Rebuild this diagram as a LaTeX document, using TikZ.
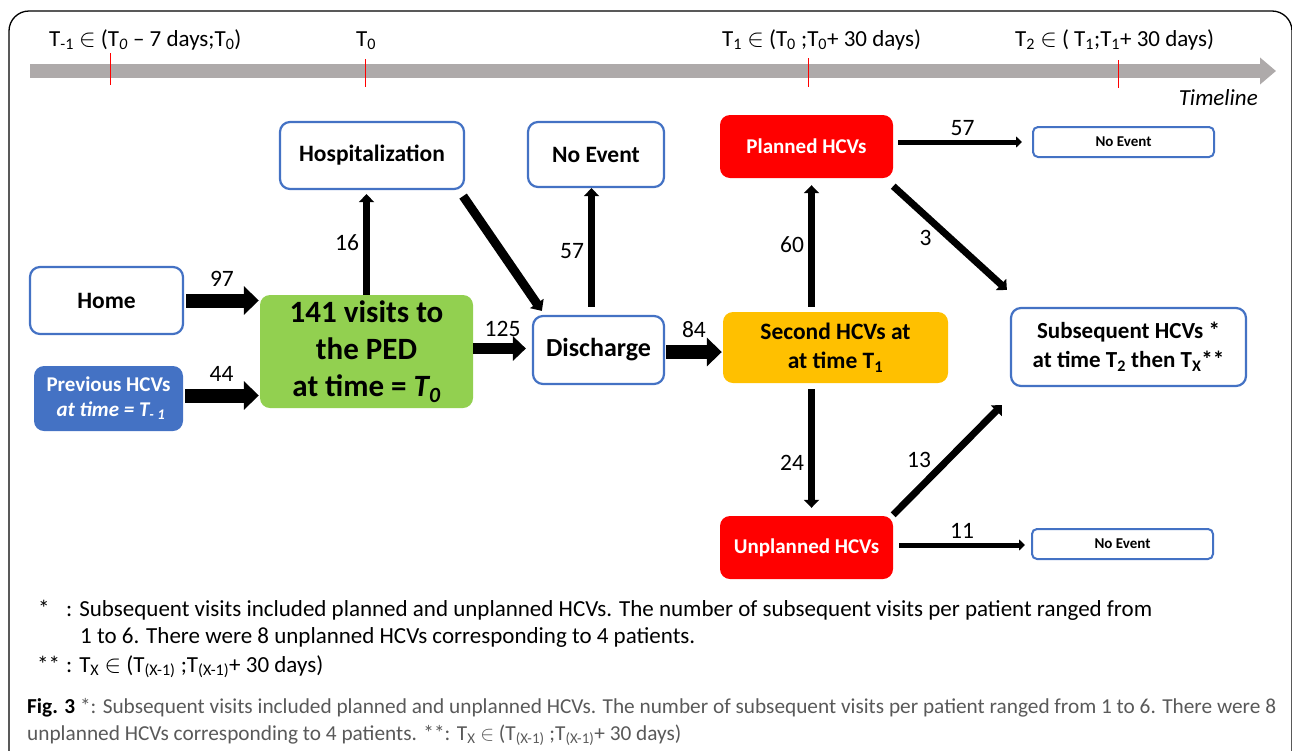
\documentclass[tikz,border=0pt]{standalone}
\usepackage{fontspec}
\setmainfont{Carlito}
\usepackage{tikz}
\usetikzlibrary{arrows.meta, calc}

\definecolor{boxblue}{HTML}{4472C4}
\definecolor{pedgreen}{HTML}{92D050}
\definecolor{hcvgold}{HTML}{FFC000}
\definecolor{hcvred}{HTML}{FF0000}
\definecolor{tlgray}{HTML}{AEAAAA}
\definecolor{capgray}{HTML}{595959}

\begin{document}
\begin{tikzpicture}[x=1pt, y=-1pt,
    every node/.style={font=\fontsize{23}{27}\selectfont},
    txt/.style={inner sep=0pt, anchor=base west},
    lbl/.style={inner sep=1pt, font=\fontsize{23.5}{27}\selectfont},
    whitebox/.style={draw=boxblue, line width=2.2pt, fill=white, rounded corners=10pt, align=center, font=\fontsize{23.5}{29}\selectfont\bfseries},
    fillbox/.style={rounded corners=10pt, align=center, font=\fontsize{21}{25}\selectfont\bfseries},
    smallbox/.style={draw=boxblue, line width=2pt, fill=white, rounded corners=5pt, minimum width=181pt, minimum height=30pt, font=\fontsize{15}{17}\selectfont\bfseries},
    fatarrow/.style={line width=14pt, -{Triangle[length=15pt,width=28pt]}},
    medarrow/.style={line width=11pt, -{Triangle[length=13pt,width=24pt]}},
    diagarrow/.style={line width=9pt, -{Triangle[length=9pt,width=16pt]}},
    midarrow/.style={line width=7pt, -{Triangle[length=8pt,width=15pt]}},
    thinarrow/.style={line width=5pt, -{Triangle[length=6pt,width=11pt]}}]
  \useasboundingbox (0,0) rectangle (1292,750);
  \draw[line width=1.3pt, rounded corners=20pt] (9,760) -- (9,11) -- (1292,11) -- (1292,760);

  % timeline
  \draw[tlgray, line width=14pt, -{Triangle[length=16pt,width=26pt]}] (30,71) -- (1276,71);
  \foreach \x/\ya/\yb in {110/53/85, 365/59/87, 808/58/87, 1118/60/88}
    \draw[red, line width=0.8pt] (\x,\ya) -- (\x,\yb);
  \node[txt] (tm1) at (49,46) {T\textsubscript{-1} $\in$ (T\textsubscript{\textit{0}} – 7 days;T\textsubscript{0})};
  \node[txt] (t0) at (356,46) {T\textsubscript{0}};
  \node[txt] (t1) at (722,46) {T\textsubscript{1} $\in$ (T\textsubscript{0} ;T\textsubscript{0}+ 30 days)};
  \node[txt] (t2) at (1015,46) {T\textsubscript{2} $\in$ ( T\textsubscript{1};T\textsubscript{1}+ 30 days)};
  \node[txt, anchor=base east] (tl) at (1258,105) {\textit{Timeline}};

  % boxes
  \node[whitebox, minimum width=153pt, minimum height=67pt] (home) at (106.5,300.5) {Home};
  \node[fillbox, fill=boxblue, text=white, minimum width=149pt, minimum height=65pt] (prev) at (108.5,398.5) {Previous HCVs\\ \ \textit{at time = T\textsubscript{- 1}}};
  \node[fillbox, fill=pedgreen, font=\fontsize{31}{37}\selectfont\bfseries, minimum width=213pt, minimum height=113pt] (ped) at (366.5,351.5) {141 visits to\\the PED\\at time = \textit{T\textsubscript{0}}};
  \node[whitebox, minimum width=184pt, minimum height=67pt] (hosp) at (372,155.5) {Hospitalization};
  \node[whitebox, minimum width=136pt, minimum height=65pt] (noev1) at (596,154.5) {No Event};
  \node[whitebox, font=\fontsize{26}{29}\selectfont\bfseries, minimum width=131pt, minimum height=68pt] (disc) at (598.5,350) {Discharge};
  \node[fillbox, fill=hcvgold, font=\fontsize{23.5}{29}\selectfont\bfseries, minimum width=225pt, minimum height=71pt] (second) at (835.5,347.5) {Second HCVs at\\at time T\textsubscript{1}};
  \node[fillbox, fill=hcvred, text=white, minimum width=173pt, minimum height=63pt] (planned) at (806.5,146.5) {Planned HCVs};
  \node[fillbox, fill=hcvred, text=white, minimum width=173pt, minimum height=63pt] (unplanned) at (806.5,547.5) {Unplanned HCVs};
  \node[smallbox] (noev2) at (1123.5,142) {No Event};
  \node[smallbox] (noev3) at (1122.5,544) {No Event};
  \node[whitebox, font=\fontsize{23}{29}\selectfont\bfseries, minimum width=235pt, minimum height=78pt] (subs) at (1128.5,347) {Subsequent HCVs *\\at time T\textsubscript{2} then T\textsubscript{X}**};

  % flows
  \draw[fatarrow, shorten <=2pt, shorten >=1pt] (home.east) -- (home.east -| ped.west) node[lbl, midway, above=6pt] {97};
  \draw[fatarrow, shorten <=2pt, shorten >=1pt] ([yshift=3pt]prev.east) -- ([yshift=3pt]prev.east -| ped.west) node[lbl, midway, above=6pt] {44};
  \draw[midarrow, shorten >=4pt] (ped.north) -- (ped.north |- hosp.south) node[lbl, midway, left=3pt] {16};
  \draw[diagarrow] ([xshift=-2pt,yshift=-6pt]hosp.south east) -- ([xshift=10pt,yshift=4pt]disc.north west);
  \draw[medarrow, shorten >=6pt] ([yshift=3pt]ped.east) -- ([yshift=3pt]ped.east -| disc.west) node[lbl, midway, above=5pt] {125};
  \draw[midarrow, shorten <=8pt] ([xshift=-7pt]disc.north) -- ([xshift=-7pt]disc.north |- noev1.south) node[lbl, midway, left=3pt] {57};
  \draw[fatarrow, shorten <=1pt, shorten >=1pt] ([yshift=-2pt]disc.east) -- ([yshift=-2pt]disc.east -| second.west) node[lbl, midway, above=6pt] {84};
  \draw[midarrow, shorten <=5pt, shorten >=7pt] ($(second.north -| planned.south)+(5,0)$) -- ($(planned.south)+(5,0)$) node[lbl, midway, left=3pt] {60};
  \draw[midarrow, shorten <=6pt, shorten >=8pt] ($(second.south -| unplanned.north)+(5,0)$) -- ($(unplanned.north)+(5,0)$) node[lbl, pos=0.6, left=3pt] {24};
  \draw[thinarrow, shorten <=5pt, shorten >=10pt] (planned.east |- noev2) -- (noev2.west) node[lbl, midway, above=3pt] {57};
  \draw[midarrow] ([yshift=-8pt]planned.south east) -- ([xshift=-3pt,yshift=17pt]subs.north west) node[lbl, midway, left=14pt] {3};
  \draw[midarrow] ([yshift=1pt]unplanned.north east) -- ([xshift=-8pt,yshift=-18pt]subs.south west) node[lbl, midway, left=12pt] {13};
  \draw[thinarrow, shorten <=6pt, shorten >=6pt] ([yshift=-1pt]unplanned.east |- noev3) -- ([yshift=-1pt]noev3.west) node[lbl, midway, above=3pt] {11};

  % footnotes
  \node[txt] (fn1) at (38,616) {*};
  \node[txt] (fn1t) at (66,616) {: Subsequent visits included planned and unplanned HCVs. The number of subsequent visits per patient ranged from};
  \node[txt] (fn2t) at (80,643) {1 to 6. There were 8 unplanned HCVs corresponding to 4 patients.};
  \node[txt] (fn3) at (37,672) {**};
  \node[txt] (fn3t) at (66,672) {: T\textsubscript{X} $\in$ (T\textsubscript{(X-1)} ;T\textsubscript{(X-1)}+ 30 days)};

  % caption
  \node[txt, text=capgray, font=\fontsize{21.3}{27}\selectfont] (cap1) at (27,713) {\textcolor{black}{\textbf{Fig. 3}} *: Subsequent visits included planned and unplanned HCVs. The number of subsequent visits per patient ranged from 1 to 6. There were 8};
  \node[txt, text=capgray, font=\fontsize{21.3}{27}\selectfont] (cap2) at (27,740) {unplanned HCVs corresponding to 4 patients. **: T\textsubscript{X} $\in$ (T\textsubscript{(X-1)} ;T\textsubscript{(X-1)}+ 30 days)};
\end{tikzpicture}
\end{document}
